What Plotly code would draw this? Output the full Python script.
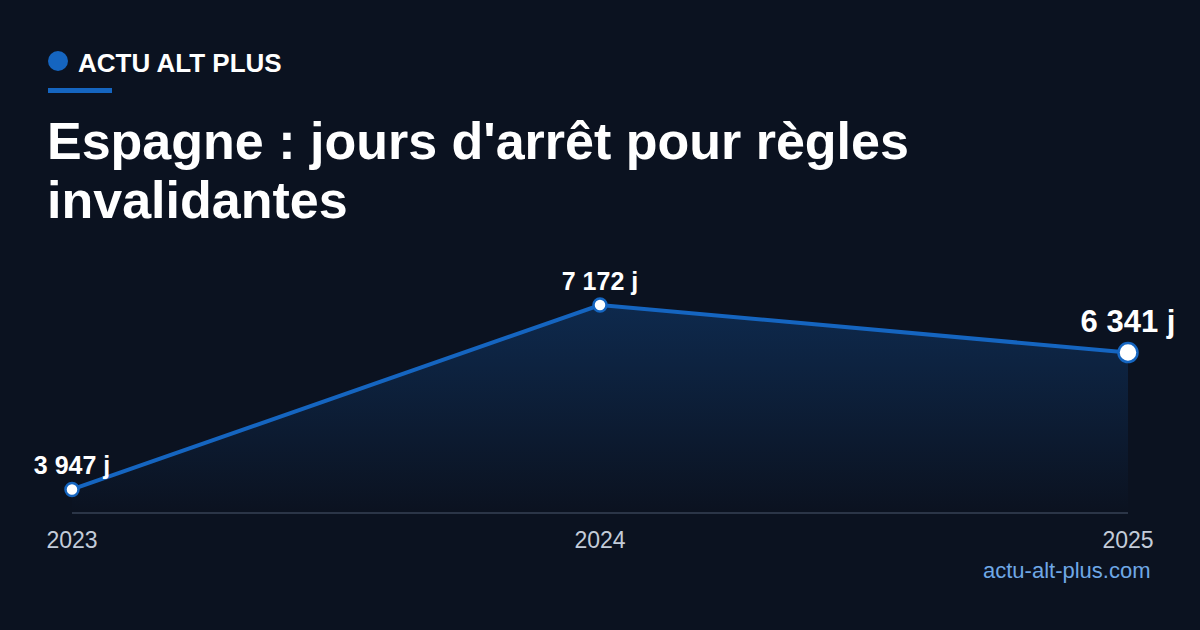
import plotly.graph_objects as go

# data
years = [2023, 2024, 2025]
jours = [3947, 7172, 6341]
label_sizes = [25, 25, 31]
marker_sizes = [13, 13, 19]
title_lines = ["Espagne : jours d'arrêt pour règles", "invalidantes"]

bg = "#0b1220"
blue = "#1565c0"

# plot area in pixels (1200x630 canvas)
L, R, T, B = 72, 72, 264, 118
W = 1200 - L - R
H = 630 - T - B

def px(x):
    return (x - L) / W

def py(y):
    return (630 - B - y) / H

y_lo = min(jours) * 0.9
y_hi = max(jours) * 1.1

fig = go.Figure()

# invisible baseline used as fill floor
fig.add_trace(go.Scatter(
    x=years, y=[y_lo] * len(years), mode="lines",
    line=dict(width=0), hoverinfo="skip", showlegend=False))

fig.add_trace(go.Scatter(
    x=years, y=jours,
    mode="lines+markers+text",
    fill="tonexty",
    fillgradient=dict(type="vertical",
                      colorscale=[[0, "rgba(21,101,192,0.0)"],
                                  [1, "rgba(21,101,192,0.28)"]]),
    line=dict(color=blue, width=4),
    marker=dict(size=marker_sizes, color="white", opacity=1,
                line=dict(color=blue, width=2.5)),
    texttemplate="%{y:,.0f} j",
    textposition="top center",
    textfont=dict(family="Liberation Sans", size=label_sizes, color="white",
                  weight="bold"),
    cliponaxis=False,
    showlegend=False))

fig.update_layout(
    width=1200, height=630,
    margin=dict(l=L, r=R, t=T, b=B),
    paper_bgcolor=bg, plot_bgcolor=bg,
    separators=", ",
    font=dict(family="Liberation Sans"),
    xaxis=dict(range=[2023, 2025], tickvals=years, ticktext=[str(y) for y in years],
               showgrid=False, zeroline=False,
               showline=True, linecolor="#2b3547", linewidth=2,
               ticks="outside", ticklen=6, tickcolor=bg,
               tickfont=dict(size=23, color="#c3ccd9")),
    yaxis=dict(range=[y_lo, y_hi], visible=False, showgrid=False),
)

# header: dot, brand, underline
fig.add_shape(type="circle", xref="paper", yref="paper",
              x0=px(48), x1=px(68), y0=py(71), y1=py(51),
              fillcolor=blue, line=dict(width=0))
fig.add_shape(type="rect", xref="paper", yref="paper",
              x0=px(48), x1=px(112), y0=py(93), y1=py(88),
              fillcolor=blue, line=dict(width=0))
fig.add_annotation(text="<b>ACTU ALT PLUS</b>", xref="paper", yref="paper",
                   x=px(76), y=py(63), xanchor="left", yanchor="middle",
                   showarrow=False, font=dict(size=26, color="white"))

for i, line in enumerate(title_lines):
    fig.add_annotation(text="<b>" + line + "</b>",
                       xref="paper", yref="paper", x=px(45), y=py(141 + 59 * i),
                       xanchor="left", yanchor="middle", align="left",
                       showarrow=False, font=dict(size=52, color="white"))

fig.add_annotation(text="actu-alt-plus.com", xref="paper", yref="paper",
                   x=px(1153), y=py(570), xanchor="right", yanchor="middle",
                   showarrow=False, font=dict(size=22, color="#6fa8e6"))

fig.write_html("out.html", config={"displayModeBar": False},
               post_script="document.body.style.margin='0';")
